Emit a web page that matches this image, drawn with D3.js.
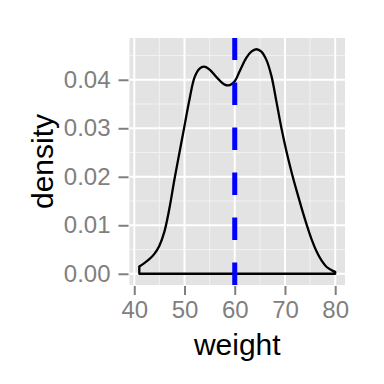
<!DOCTYPE html>
<html>
<head>
<meta charset="utf-8">
<script src="https://cdn.jsdelivr.net/npm/d3@7"></script>
<style>
body { margin: 0; background: #fff; }
text { font-family: "Liberation Sans", Arial, Helvetica, sans-serif; }
</style>
</head>
<body>
<svg id="chart" width="384" height="384"></svg>
<script>
// density estimate of weight
var weightVals = [41, 42, 43, 44, 45, 46, 47, 48, 49, 50, 51, 52, 53, 53.9, 55, 56.5, 58, 59,
	60, 61, 62.3, 63.3, 64.3, 65.3, 66.3, 67.3, 68.3, 69.3, 70.3, 71.3, 72.3, 73.3,
	74.3, 75.3, 76.3, 77.3, 78.3, 79.2, 80];
var densityVals = [0.0015, 0.0022, 0.0030, 0.0041, 0.0058, 0.0087, 0.0135, 0.0195, 0.0250,
	0.0305, 0.0360, 0.0405, 0.0423, 0.0427, 0.0421, 0.0404, 0.0390, 0.0389, 0.0397, 0.0418,
	0.0445, 0.0458, 0.0463, 0.0458, 0.0441, 0.0408, 0.0355, 0.0300, 0.0252, 0.0210, 0.0172,
	0.0136, 0.0102, 0.0071, 0.0046, 0.0027, 0.0014, 0.0008, 0.0004];
var meanWeight = 60;

var xTicks = [40, 50, 60, 70, 80];
var xMinor = [45, 55, 65, 75];
var yTicks = [0, 0.01, 0.02, 0.03, 0.04];
var yMinor = [0.005, 0.015, 0.025, 0.035, 0.045];

var panel = { left: 129.5, right: 345, top: 38, bottom: 285 };

var svg = d3.select("#chart");

// ggplot style 5% expansion
var xMin = d3.min(weightVals), xMax = d3.max(weightVals);
var xPad = (xMax - xMin) * 0.05;
var x = d3.scaleLinear()
	.domain([xMin - xPad, xMax + xPad])
	.range([panel.left, panel.right]);

var yMax = d3.max(densityVals);
var yPad = yMax * 0.05;
var y = d3.scaleLinear()
	.domain([-yPad, yMax + yPad])
	.range([panel.bottom, panel.top]);

svg.append("rect")
	.attr("x", panel.left)
	.attr("y", panel.top)
	.attr("width", panel.right - panel.left)
	.attr("height", panel.bottom - panel.top)
	.attr("fill", "#E3E3E3");

// minor grid
svg.selectAll(".xminor")
	.data(xMinor)
.enter().append("line")
	.attr("x1", function(d) { return x(d); })
	.attr("x2", function(d) { return x(d); })
	.attr("y1", panel.top)
	.attr("y2", panel.bottom)
	.attr("stroke", "#F2F2F2")
	.attr("stroke-width", 1);

svg.selectAll(".yminor")
	.data(yMinor)
.enter().append("line")
	.attr("x1", panel.left)
	.attr("x2", panel.right)
	.attr("y1", function(d) { return y(d); })
	.attr("y2", function(d) { return y(d); })
	.attr("stroke", "#F2F2F2")
	.attr("stroke-width", 1);

// major grid
svg.selectAll(".xmajor")
	.data(xTicks)
.enter().append("line")
	.attr("x1", function(d) { return x(d); })
	.attr("x2", function(d) { return x(d); })
	.attr("y1", panel.top)
	.attr("y2", panel.bottom)
	.attr("stroke", "#fff")
	.attr("stroke-width", 2);

svg.selectAll(".ymajor")
	.data(yTicks)
.enter().append("line")
	.attr("x1", panel.left)
	.attr("x2", panel.right)
	.attr("y1", function(d) { return y(d); })
	.attr("y2", function(d) { return y(d); })
	.attr("stroke", "#fff")
	.attr("stroke-width", 2);

// density outline, closed down to zero like geom_density
var pts = weightVals.map(function(d, i) { return [d, densityVals[i]]; });
var curve = d3.line()
	.x(function(d) { return x(d[0]); })
	.y(function(d) { return y(d[1]); })
	.curve(d3.curveCatmullRom);

var outline = "M" + x(xMin) + "," + y(0) + "L" + curve(pts).slice(1) +
	"L" + x(xMax) + "," + y(0) + "Z";

svg.append("path")
	.attr("d", outline)
	.attr("fill", "none")
	.attr("stroke", "#000")
	.attr("stroke-width", 2.3)
	.attr("stroke-linejoin", "round");

// mean line
svg.append("line")
	.attr("x1", x(meanWeight))
	.attr("x2", x(meanWeight))
	.attr("y1", panel.bottom)
	.attr("y2", panel.top)
	.attr("stroke", "#0000FF")
	.attr("stroke-width", 5)
	.attr("stroke-dasharray", "22.5,22.5");

// axes
var xAxis = d3.axisBottom(x)
	.tickValues(xTicks)
	.tickSize(9)
	.tickPadding(6)
	.tickFormat(d3.format("d"));

var gx = svg.append("g")
	.attr("transform", "translate(0," + (panel.bottom + 1) + ")")
	.call(xAxis);

var yAxis = d3.axisLeft(y)
	.tickValues(yTicks)
	.tickSize(10)
	.tickPadding(8)
	.tickFormat(d3.format(".2f"));

var gy = svg.append("g")
	.attr("transform", "translate(" + (panel.left - 1) + ",0)")
	.call(yAxis);

[gx, gy].forEach(function(g) {
	g.select(".domain").remove();
	g.selectAll(".tick line")
		.attr("stroke", "#7F7F7F")
		.attr("stroke-width", 2);
	g.selectAll(".tick text")
		.attr("fill", "#7F7F7F")
		.style("font-size", "24px");
});

svg.append("text")
	.attr("x", (panel.left + panel.right) / 2)
	.attr("y", 355)
	.attr("text-anchor", "middle")
	.style("font-size", "30px")
	.text("weight");

svg.append("text")
	.attr("transform", "translate(53," + ((panel.top + panel.bottom) / 2) + ") rotate(-90)")
	.attr("text-anchor", "middle")
	.style("font-size", "30px")
	.text("density");
</script>
</body>
</html>
